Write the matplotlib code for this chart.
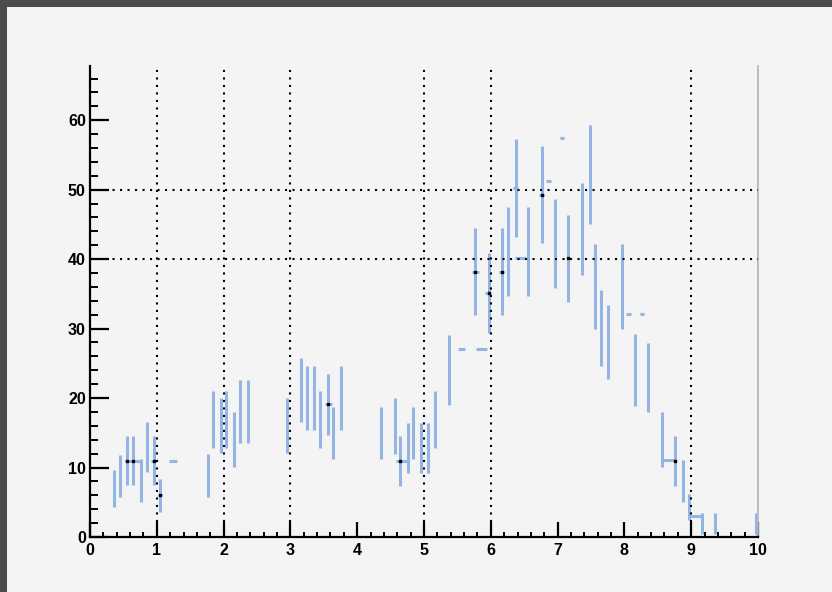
import numpy as np
import matplotlib
matplotlib.use('Agg')
import matplotlib.pyplot as plt
from matplotlib.patches import Rectangle

# Pontos com barras de erro verticais (valor central e erro)
x_pts = [0.36, 0.45, 0.56, 0.65, 0.76, 0.85, 0.96, 1.045,
         1.76, 1.84, 1.96, 2.04, 2.16, 2.24, 2.36,
         2.95, 3.16, 3.25, 3.36, 3.45, 3.56, 3.645, 3.76,
         4.36, 4.56, 4.64, 4.76, 4.84, 4.96, 5.06, 5.17, 5.37,
         5.77, 5.97, 6.17, 6.25, 6.37, 6.56, 6.76, 6.96, 7.16, 7.36, 7.48,
         7.56, 7.65, 7.76, 7.96, 8.16, 8.36, 8.56, 8.76, 8.875, 8.96,
         9.16, 9.36, 9.97]
y_pts = [7.0, 8.8, 11.0, 11.0, 8.15, 12.95, 11.0, 6.0,
         8.85, 16.9, 16.0, 16.9, 14.05, 18.1, 18.1,
         16.0, 21.15, 20.0, 20.0, 16.9, 19.05, 15.0, 20.0,
         15.0, 15.95, 10.9, 12.8, 15.0, 12.8, 12.8, 16.9, 24.05,
         38.2, 35.1, 38.2, 41.05, 50.25, 41.05, 49.3, 42.2, 40.1, 44.35, 52.15,
         36.1, 30.1, 28.05, 36.05, 24.05, 23.0, 14.05, 10.9, 8.1, 4.3,
         2.0, 2.0, 2.0]
err_pts = [2.65, 3.0, 3.55, 3.55, 3.05, 3.55, 3.5, 2.4,
           3.05, 4.15, 3.95, 4.15, 3.95, 4.5, 4.5,
           3.95, 4.55, 4.6, 4.6, 4.15, 4.35, 3.75, 4.6,
           3.75, 4.0, 3.6, 3.6, 3.75, 3.6, 3.6, 4.15, 5.05,
           6.25, 5.8, 6.25, 6.4, 7.1, 6.4, 7.0, 6.4, 6.2, 6.65, 7.1,
           6.1, 5.5, 5.35, 6.1, 5.15, 4.95, 3.95, 3.6, 3.05, 1.85,
           1.5, 1.5, 1.5]

# Barras horizontais (inicio, fim, altura)
seg_x0 = [0.52, 0.92, 1.02, 1.19, 3.52, 4.58, 5.51, 5.78, 5.72, 5.92, 6.12,
          6.33, 6.36, 6.72, 6.83, 7.03, 8.03, 8.23, 8.56, 8.97]
seg_x1 = [0.76, 0.99, 1.08, 1.30, 3.62, 4.76, 5.62, 5.94, 5.82, 5.99, 6.20,
          6.41, 6.51, 6.80, 6.90, 7.10, 8.10, 8.30, 8.76, 9.17]
seg_y = [11.0, 11.0, 6.0, 11.0, 19.1, 11.0, 27.0, 27.0, 38.2, 35.1, 38.2,
         50.2, 40.2, 49.3, 51.2, 57.4, 32.1, 32.1, 11.1, 3.0]

# Marcadores pretos
mk_x = [0.56, 0.65, 0.96, 1.045, 3.56, 4.64, 5.77, 5.97, 6.17, 6.76, 7.16, 8.76]
mk_y = [11.0, 11.0, 11.0, 6.0, 19.1, 11.0, 38.2, 35.1, 38.2, 49.3, 40.1, 11.0]

# Linhas de grade
grid_x = [1, 2, 3, 5, 6, 9]
grid_y = [40, 50]

plt.rcParams['font.family'] = ['Liberation Sans', 'DejaVu Sans']

fig = plt.figure(figsize=(8.32, 5.92), dpi=100)
fig.patch.set_facecolor('#4c4c4e')
fig.patches.append(Rectangle((7 / 832, 0), 1, 1 - 7 / 592, transform=fig.transFigure,
                             facecolor='#f4f4f4', edgecolor='none', zorder=-10))

ax = fig.add_axes([90 / 832, 1 - 537 / 592, 668 / 832, 471 / 592])
ax.set_facecolor('#f4f4f4')
ax.set_xlim(0, 10)
ax.set_ylim(0, 67.8)

azul = '#94b4e4'
ax.errorbar(x_pts, y_pts, yerr=err_pts, fmt='none', ecolor=azul, elinewidth=2.2,
            capsize=0, zorder=2)
ax.hlines(seg_y, seg_x0, seg_x1, colors=azul, linewidth=2.2, zorder=2)
ax.plot(mk_x, mk_y, 's', color='black', markersize=1.6, zorder=4)

for gx in grid_x:
    ax.axvline(gx, color='black', linewidth=1.5, linestyle=(0, (1, 2.6)), zorder=3)
for gy in grid_y:
    ax.axhline(gy, color='black', linewidth=1.5, linestyle=(0, (1, 2.6)), zorder=3)

ax.spines['top'].set_visible(False)
ax.spines['right'].set_color('#b4b4b4')
ax.spines['right'].set_linewidth(1.2)
ax.spines['left'].set_linewidth(1.6)
ax.spines['bottom'].set_linewidth(1.6)

ax.set_xticks(np.arange(0, 11, 1))
ax.set_xticks(np.arange(0, 10.01, 0.2), minor=True)
ax.set_yticks(np.arange(0, 61, 10))
ax.set_yticks(np.arange(0, 67, 2), minor=True)

ax.tick_params(axis='x', which='major', direction='in', length=10.5, width=1.6,
               labelsize=11.5, pad=4.5)
ax.tick_params(axis='x', which='minor', direction='in', length=3.6, width=1.4)
ax.tick_params(axis='y', which='major', direction='in', length=14, width=1.6,
               labelsize=11.5, pad=3)
ax.tick_params(axis='y', which='minor', direction='in', length=6, width=1.4)
for lab in ax.get_xticklabels() + ax.get_yticklabels():
    lab.set_fontweight('bold')

fig.savefig('out.png', dpi=100, facecolor=fig.get_facecolor())
